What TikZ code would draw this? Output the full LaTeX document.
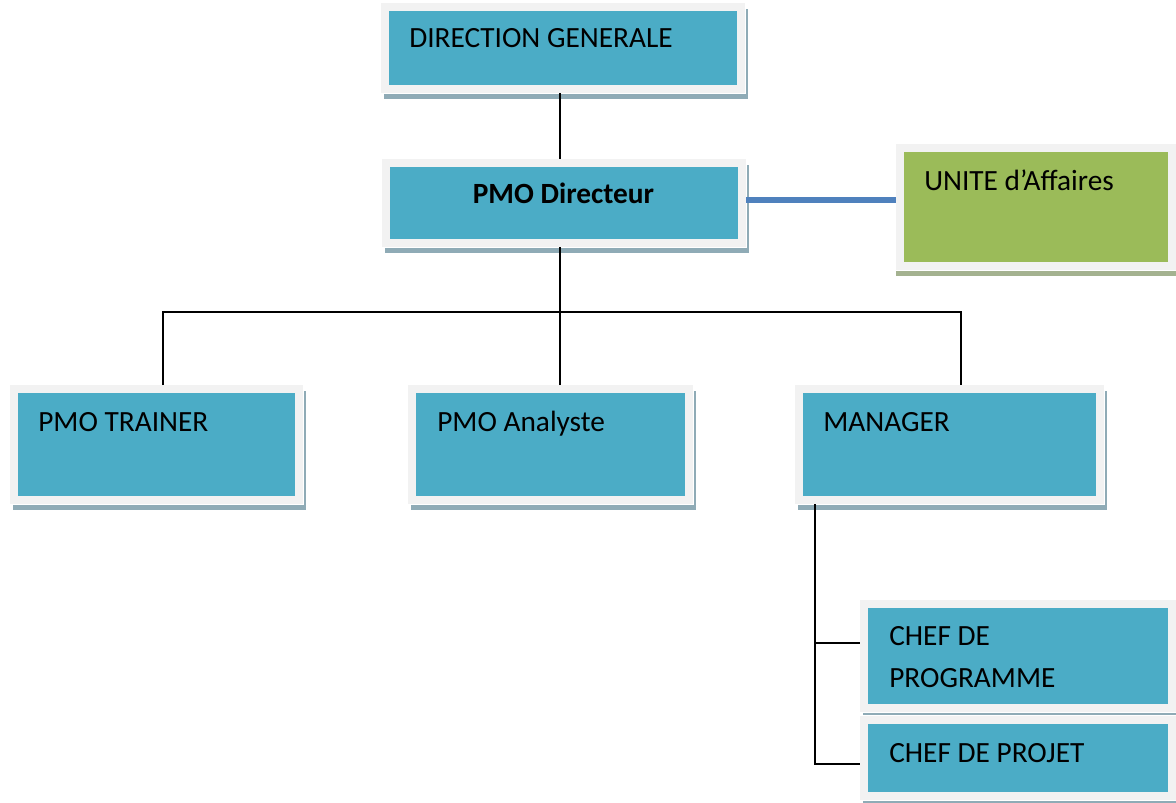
\documentclass[tikz,border=0pt]{standalone}
\usepackage{fontspec}
\setmainfont{Carlito}
\usetikzlibrary{fit}
\definecolor{boxblue}{HTML}{4BACC6}
\definecolor{boxgreen}{HTML}{9BBB59}
\definecolor{framegray}{HTML}{F2F2F2}
\definecolor{shblue}{HTML}{8FABB6}
\definecolor{shgreen}{HTML}{A4B290}
\definecolor{linkblue}{HTML}{4F81BD}
\tikzset{
  x=0.75pt, y=-0.75pt,
  orgbox/.style={inner sep=0pt, fill=boxblue, draw=framegray, line width=6pt,
    preaction={draw=shblue, fill=shblue, line width=6pt, transform canvas={xshift=2.25pt, yshift=-4.2pt}},
    preaction={draw=white, line width=7.5pt}},
  greenbox/.style={orgbox, fill=boxgreen,
    preaction={draw=shgreen, fill=shgreen, line width=6pt, transform canvas={xshift=0pt, yshift=-4.5pt}},
    preaction={draw=white, line width=7.5pt}},
  lbl/.style={anchor=base west, inner sep=0pt, font=\fontsize{22}{26}\selectfont},
  conn/.style={draw=black, line width=1.2pt},
  bluelink/.style={draw=linkblue, line width=4.4pt}
}
\begin{document}
\begin{tikzpicture}
\useasboundingbox (0,0) rectangle (1176,802);
% boxes
\node[orgbox, fit={(385,7) (741,89)}] (dg) {};
\node[orgbox, fit={(386,163) (742,243)}] (pmo) {};
\node[greenbox, fit={(900,148) (1171.5,265.5)}] (unite) {};
\node[orgbox, fit={(14,389) (299,500)}] (trainer) {};
\node[orgbox, fit={(412,389) (689,500)}] (analyste) {};
\node[orgbox, fit={(799,389) (1100,500)}] (manager) {};
\node[orgbox, fit={(864,604) (1172,708)}] (chefprog) {};
\node[orgbox, fit={(864,720) (1172,796)}] (chefproj) {};
% labels
\node[lbl] (tdg) at (409,48) {DIRECTION GENERALE};
\node[lbl, anchor=base, font=\fontsize{22}{26}\selectfont\bfseries] (tpmo) at (563.5,204) {PMO Directeur};
\node[lbl] (tunite) at (924,191) {UNITE d’Affaires};
\node[lbl] (ttrainer) at (38,431) {PMO TRAINER};
\node[lbl] (tanalyste) at (437,431) {PMO Analyste};
\node[lbl] (tmanager) at (823,431) {MANAGER};
\node[lbl] (tchef1) at (889,645) {CHEF DE};
\node[lbl] (tchef2) at (889,687) {PROGRAMME};
\node[lbl] (tchefproj) at (889,762) {CHEF DE PROJET};
% connector coordinates
\coordinate (trunk) at (560,312);
\coordinate (lft) at (163,312);
\coordinate (rgt) at (961,312);
\coordinate (mgrx) at (815,643);
\coordinate (mgrbot) at (815,764);
\coordinate (linky) at (0,200);
% connectors
\draw[conn] (dg.south -| trunk) -- (pmo.north -| trunk);
\draw[conn] (pmo.south -| trunk) -- (trunk);
\draw[conn] (analyste.north -| trunk) -- (trunk);
\draw[conn] (trainer.north -| lft) -- (lft) -- (rgt) -- (manager.north -| rgt);
\draw[conn] (manager.south -| mgrx) -- (mgrbot) -- (chefproj.west |- mgrbot);
\draw[conn] (mgrx) -- (chefprog.west |- mgrx);
\draw[bluelink] (pmo.east |- linky) -- (unite.west |- linky);
\end{tikzpicture}
\end{document}
